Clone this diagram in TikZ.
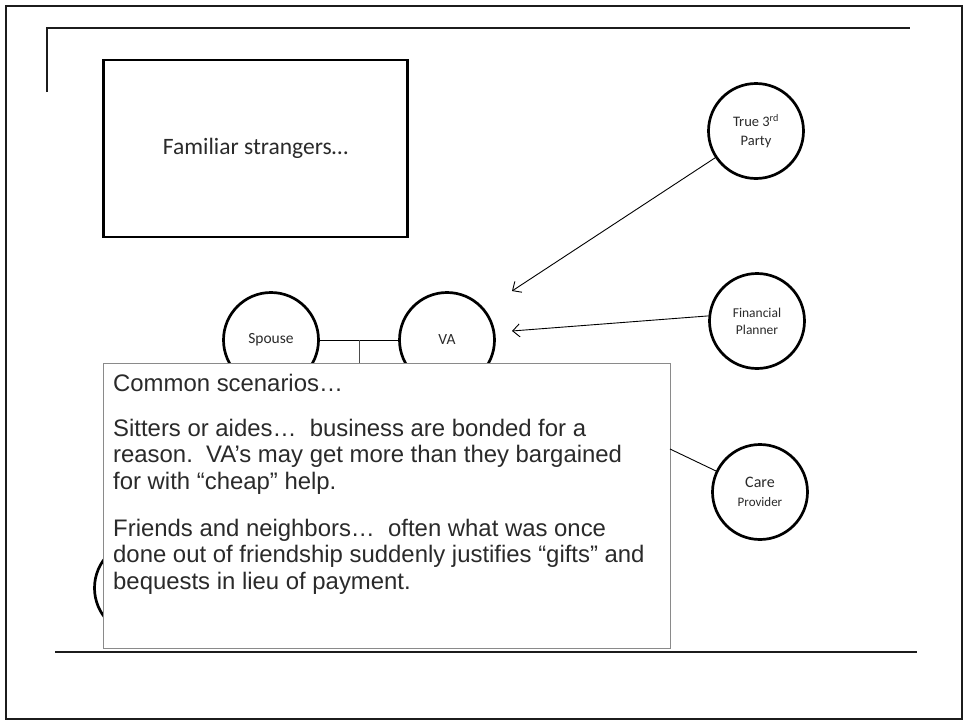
\documentclass[tikz,border=0pt]{standalone}
\usepackage{fontspec}
\setmainfont{Carlito}
\newfontfamily\arialfont{Liberation Sans}
\usetikzlibrary{arrows.meta,calc}
\definecolor{ink}{HTML}{1C1C1C}
\definecolor{txt}{HTML}{2A2A2A}
\definecolor{boxgray}{HTML}{8A8A8A}
\begin{document}
\begin{tikzpicture}[x=1pt,y=-1pt,
  frame/.style={draw=ink, line width=2pt},
  person/.style={circle, draw=black, line width=2.7pt, minimum size=95pt,
    inner sep=0pt, align=center, text=txt, fill=white},
  link/.style={draw=black, line width=0.9pt},
  pointer/.style={link, -{Straight Barb[length=7pt,width=13pt,line width=0.9pt]}},
  bodyline/.style={anchor=base west, inner sep=0pt, text=txt,
    font=\arialfont\fontsize{23.9}{26.8}\selectfont}]

\useasboundingbox (0,0) rectangle (967,723);
\fill[white] (0,0) rectangle (967,723);

% slide frame and rules
\draw[frame] (6,6) rectangle (962,719);
\draw[frame] (47,92) -- (47,28) -- (910,28);
\draw[frame] (55,652) -- (917,652);

% title box
\node[draw=black, line width=2.5pt, minimum width=304pt, minimum height=177pt,
  text=txt, font=\fontsize{23.5}{28}\selectfont] (fam) at (255.5,148.5) {Familiar strangers…};

% circle partly hidden behind the text panel
\node[person] (hidden) at (142,588) {};

% couple
\node[person, font=\fontsize{15.5}{18}\selectfont] (sp) at (271,340) {Spouse};
\node[person, font=\fontsize{15.5}{18}\selectfont] (va) at (447,340) {VA};

% outside parties
\node[person, font=\fontsize{14.5}{19}\selectfont] (t3) at (756,131) {True 3\textsuperscript{rd}\\Party};
\node[person, font=\fontsize{13.5}{17}\selectfont] (fp) at (757,321) {Financial\\Planner};
\node[person, font=\fontsize{13}{18.5}\selectfont] (cp) at (760,492)
  {{\fontsize{16}{18.5}\selectfont Care}\\Provider};

% arrows toward the VA
\coordinate (tipA) at (512,291);
\coordinate (tipB) at (512,331);
\draw[pointer] (t3) -- (tipA);
\draw[pointer] (fp.174) -- (tipB);

% text panel
\node[draw=boxgray, fill=white, line width=1.3pt, minimum width=567pt, minimum height=285pt,
  anchor=north west, inner sep=0pt] (panel) at (103,363) {};

% couple link with its stem down to the panel
\draw[link] (sp) -- (va);
\coordinate (jn) at ($(sp)!0.5!(va)$);
\draw[link, draw=black!70] (jn) -- (jn |- panel.north);

% care provider link from the panel edge
\coordinate (cpfoot) at (670,449);
\draw[link] (cp) -- (cpfoot);

\node[bodyline] (l1) at (113,391) {Common scenarios…};
\node[bodyline] (l2) at (113,436) {Sitters or aides…\ \ business are bonded for a};
\node[bodyline] (l3) at (113,462.5) {reason.\ \ VA’s may get more than they bargained};
\node[bodyline] (l4) at (113,489) {for with “cheap” help.};
\node[bodyline] (l5) at (113,536) {Friends and neighbors…\ \ often what was once};
\node[bodyline] (l6) at (113,562.5) {done out of friendship suddenly justifies “gifts” and};
\node[bodyline] (l7) at (113,589) {bequests in lieu of payment.};
\end{tikzpicture}
\end{document}
